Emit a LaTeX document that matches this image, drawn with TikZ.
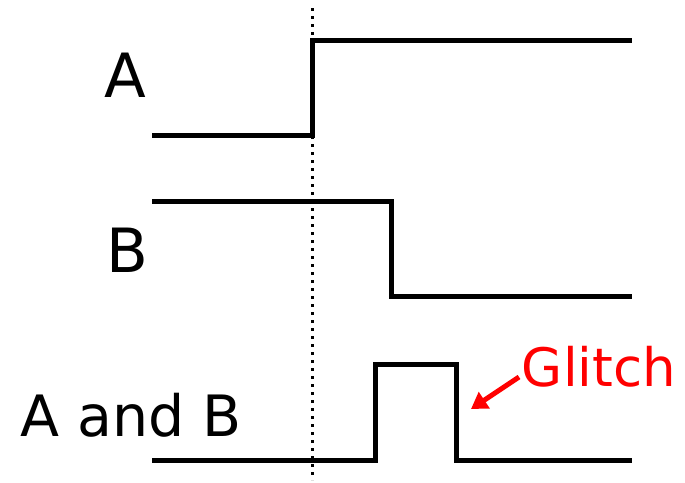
\documentclass[tikz,border=0pt]{standalone}
\usepackage{fontspec}
\setmainfont{DejaVu Sans}
\usetikzlibrary{arrows.meta}
\begin{document}
\begin{tikzpicture}[x=1pt,y=-1pt,
  sig/.style={line width=5pt,line join=miter},
  lbl/.style={inner sep=0pt,anchor=base,font=\fontsize{61}{61}\selectfont},
  glitchlbl/.style={inner sep=0pt,anchor=base,text=red,font=\fontsize{53}{53}\selectfont},
  marker/.style={line width=3pt,dash pattern=on 3pt off 5pt}]
\useasboundingbox (0,0) rectangle (685,482);
% dotted reference line
\coordinate (dtop) at (312,8);
\coordinate (dbot) at (312,480);
\draw[marker] (dtop) -- (dbot);
% signal A
\coordinate (a0) at (152,135);
\coordinate (a1) at (312,135);
\coordinate (a2) at (312,40);
\coordinate (a3) at (632,40);
\draw[sig] (a0) -- (a1) -- (a2) -- (a3);
% signal B
\coordinate (b0) at (152,201);
\coordinate (b1) at (391,201);
\coordinate (b2) at (391,296);
\coordinate (b3) at (632,296);
\draw[sig] (b0) -- (b1) -- (b2) -- (b3);
% A and B
\coordinate (c0) at (152,460);
\coordinate (c1) at (375,460);
\coordinate (c2) at (375,364);
\coordinate (c3) at (456,364);
\coordinate (c4) at (456,460);
\coordinate (c5) at (632,460);
\draw[sig] (c0) -- (c1) -- (c2) -- (c3) -- (c4) -- (c5);
% labels
\node[lbl] (la) at (125,97) {A};
\node[lbl] (lb) at (127,272) {B};
\node[lbl,font=\fontsize{57}{57}\selectfont] (lab) at (131,436) {A and B};
\node[glitchlbl] (lg) at (599,386) {Glitch};
\coordinate (gt) at (471,409);
\draw[red,line width=5pt,-{Triangle[length=16pt,width=19pt]}] (519,377) -- (gt);
\end{tikzpicture}
\end{document}
